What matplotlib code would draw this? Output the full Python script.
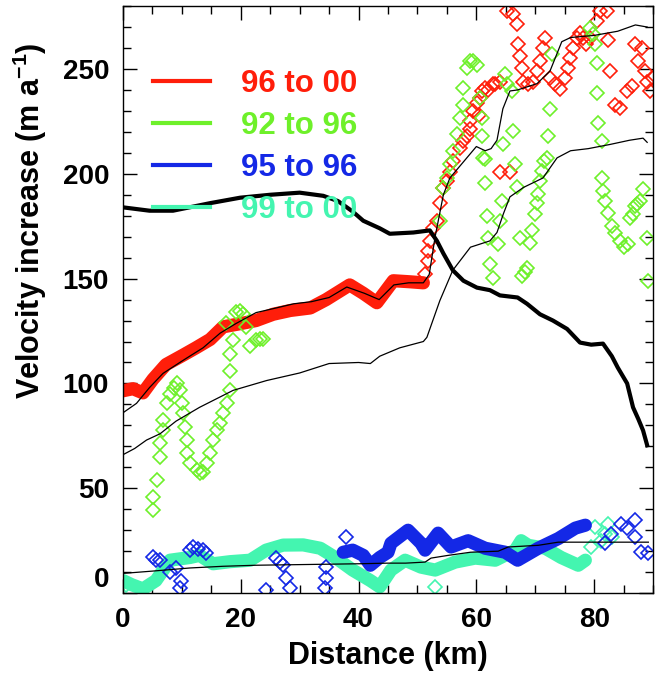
import matplotlib
matplotlib.use("Agg")
import matplotlib.pyplot as plt
from matplotlib.lines import Line2D

plt.rcParams['font.family'] = ['Liberation Sans', 'DejaVu Sans']
plt.rcParams['font.weight'] = 'bold'
plt.rcParams['mathtext.fontset'] = 'custom'
plt.rcParams['mathtext.rm'] = 'Liberation Sans:bold'
plt.rcParams['mathtext.bf'] = 'Liberation Sans:bold'

RED = '#ff1e0a'
GREEN = '#6ef02a'
BLUE = '#1428e6'
CYAN = '#44f5b0'

# thick black profile
prof_x = [0, 4.5, 8.5, 14.8, 19.9, 25, 30, 34, 36.5, 39, 40.8, 43.6, 45.3, 49.3, 52.1, 53.3,
          54.4, 56, 57.8, 60.1, 62.3, 64, 67, 68.6, 70.8, 73, 75.4, 77.6, 79.5, 81.5, 83, 84,
          85.6, 86.6, 87.5, 88.3, 89]
prof_y = [184, 182.4, 182.4, 186, 188.6, 190, 191, 189.5, 187, 182, 177.6, 174, 171.4, 172, 173,
          168, 162, 154, 149, 145.7, 144.5, 142, 141, 138, 133, 130, 126, 119.5, 118.5, 119, 113,
          107.6, 100, 88.6, 83, 77.6, 70.5]

# thin black lines
a_x = [0, 2.3, 4.5, 6.8, 10.2, 13.6, 16.5, 19.2, 22.6, 26, 29, 32, 35, 38, 41, 43.5, 46, 48.5,
       51, 52, 53, 54.4, 55.5, 57, 58.5, 60, 61.5, 62.5, 63.5, 64.5, 65.7, 67, 70.3, 72.5, 73.5,
       74.5, 76, 80, 84, 87, 89]
a_y = [86, 90.5, 98, 104.8, 111, 117, 124, 128.6, 133.8, 136, 138, 139, 141, 146, 143, 140, 147,
       148, 148, 152, 170, 190, 198, 203, 208, 213, 211, 212, 216, 231, 239.5, 240, 243, 249, 256,
       263, 265, 266, 268, 271, 270]
b_x = [0, 2, 4, 6.3, 9, 13, 18.7, 24.4, 30, 35, 40, 42, 43.6, 47, 51, 51.6, 53.8, 56, 59, 62.3,
       63.5, 64.6, 65.7, 68, 71.3, 73.7, 76, 79, 82.7, 86, 88.3, 89]
b_y = [66, 69, 73, 76, 82, 88.6, 96.7, 101.4, 105, 109.5, 110, 109.5, 113, 117, 120, 122, 139.5,
       154, 165, 168, 172, 181, 189, 193.5, 198, 207.6, 211, 212, 214, 216, 217, 215]
c_x = [0, 5, 11.4, 17, 22.6, 30, 35, 40, 45, 48, 51.3, 52.3, 55.2, 59, 63.7, 65.4, 70.5, 73.9,
       79, 84.6, 89.2]
c_y = [9.4, 10.5, 12, 12.8, 13.3, 13.6, 13.8, 14, 14.3, 14.3, 14.8, 16.7, 18, 19.5, 20, 22, 22.8,
       24.3, 24.3, 24.3, 24.3]

# 96 to 00
red_band_x = [0, 1.7, 3.4, 5.1, 7.3, 10.2, 12.4, 14.8, 17, 19.9, 22.6, 25.5, 28.4, 31.8, 34.5,
              36.5, 38.5, 40.8, 43.1, 45.9, 48.7, 51]
red_band_y = [96.5, 97.5, 95.5, 102, 109, 113.5, 117, 121, 127, 128.5, 130, 133, 134.8, 136, 140,
              143.5, 147, 143, 138.5, 149, 148.5, 148]
red_pts_x = [51.3, 51.8, 51.8, 52.1, 52.7, 53.3, 54.4, 55, 56, 57.2, 57.8, 59, 59, 59.4, 60.1, 61,
             61.5, 60.6, 62.8, 64, 65.2, 66.2, 66.9, 67.1, 67.4, 67.8, 67.9, 68.8, 69.6, 70.3,
             70.8, 71.3, 71.7, 72.5, 73.4, 74.2, 75.1, 75.6, 75.9, 76.4, 77.1, 78.1, 79.3, 80.5,
             81, 82.2, 82.4, 82.7, 83.6, 84.4, 85.6, 86.4, 87, 88.2, 87.5, 88.7, 89, 89.5, 90,
             64, 65.7, 77.6, 78.6, 53.8, 55.5, 58.4, 60.5, 62, 63.2]
red_pts_y = [152, 158.6, 163, 168, 174, 177.6, 193, 196.7, 206, 212.4, 215.7, 221.4, 225, 230,
             233.8, 239.5, 241, 236, 242.8, 244, 277.6, 276, 271.4, 262, 256, 250.5, 244, 242.8,
             244, 249, 253.8, 260, 264.8, 245.7, 242.8, 240.5, 245.7, 250.5, 255, 260, 264.8,
             264.8, 264.8, 273, 277.6, 277.6, 264, 249, 233, 231.4, 239.5, 242, 262, 260, 253.8,
             249, 244, 239.5, 245.7, 201, 201, 267, 262, 186, 201, 218, 228, 240, 243]

# 92 to 96
green_pts_x = [5.1, 5.1, 5.8, 6.3, 6.3, 6.8, 6.8, 7.5, 8, 8.6, 9.2, 9.7, 10, 10.2, 10.5, 10.9,
               10.9, 11.4, 12.6, 13.1, 13.6, 14.3, 14.8, 15.3, 16, 16.5, 17, 17.7, 18.2, 18.2,
               18.2, 18.7, 17.5, 19.2, 19.8, 20.4, 20.9, 21.6, 22.6, 23.2, 23.8,
               53.8, 54.4, 55, 55.5, 56, 56.7, 57.2, 57.8, 57.8, 58.4, 59, 59.5, 60.1, 60.6, 61,
               61, 61.1, 61.5, 61.8, 61.5, 62, 62.3, 62.8, 63.7, 64, 64.4, 64.6, 64.9, 65.2, 66,
               66.2, 66.6, 66.9, 67.4, 67.8, 68.2, 68.6, 69.1, 69.5, 70, 70.3, 70.5, 70.8, 71.2,
               71.4, 72, 72.2, 72.5, 72.9, 79.3, 79.8, 80.2, 80.5, 80.5, 80.7, 81.4, 81.4, 81.5,
               81.9, 82.4, 83, 83.6, 84.4, 85, 85.8, 86.1, 86.6, 87, 87.3, 87.8, 88.3, 89, 89.2]
green_pts_y = [39.5, 45.7, 53.8, 64.8, 71.4, 77.6, 82.4, 90.5, 95, 98, 100, 96.7, 90.5, 85.7, 79,
               72.9, 66.7, 62, 58.6, 57.5, 57.6, 62, 66.7, 72.9, 77.6, 81, 85.7, 90.5, 96.7, 106,
               114, 120.5, 128.6, 134, 134.5, 133, 126.7, 118, 120.5, 121, 121.4,
               177.6, 193, 198, 204.8, 211, 219, 226.7, 233, 241, 250.5, 253.8, 254, 252, 236,
               226.7, 218, 207.6, 195.7, 180, 207, 169.5, 157, 150.5, 166.7, 177.6, 187, 214,
               247.6, 242.8, 239.5, 220.5, 204.8, 193.5, 169.5, 151.4, 153, 155, 167, 173, 181,
               186, 190.5, 196.7, 201.4, 206, 207.6, 218, 231, 257, 269.5, 266.7, 262, 253, 238.6,
               224, 215.7, 198, 192, 187, 181.4, 175, 172, 168, 165, 166.7, 179, 181, 184.8,
               185.7, 187, 192.9, 169.5, 149]

# 95 to 96
blue_band_x = [37.4, 39, 40.8, 42, 43.6, 45, 45.5, 48.4, 50.6, 51.3, 53.5, 55.7, 58.6, 61.5,
               64.9, 67, 70.5, 73.9, 76.8, 78.5]
blue_band_y = [19.5, 20.5, 18, 13.3, 17, 19.5, 23.8, 30, 23.8, 20.5, 28.6, 22, 25, 21.4, 19.5,
               15.7, 21.4, 26, 31, 32.4]
blue_pts_x = [5.1, 5.6, 6.3, 8, 9, 9.9, 9.7, 11.4, 11.9, 12.8, 13.6, 14.1, 24.3, 26, 26.6, 27.2,
              27.7, 28.4, 34.5, 34.5, 34.3, 37.9, 81.9, 82.8, 84.6, 85.6, 87, 87, 88, 89.2]
blue_pts_y = [17, 16, 15.7, 10, 12, 6, 2.4, 20.5, 22, 21, 20.5, 19, 1.4, 16.7, 15, 13.3, 7, 2.4,
              12.4, 7, 2.4, 26.7, 23.8, 28, 33, 31, 34.8, 26.7, 19.5, 19]

# 99 to 00
cyan_band_x = [0, 1.5, 3.4, 5.6, 8, 11.4, 13, 15.3, 18.2, 21.6, 24.3, 27.2, 30.6, 33.5, 36.2, 39,
               42, 43.6, 45.5, 47.9, 50.6, 53, 56.4, 59.8, 63.2, 66.6, 67.6, 68.8, 71.7, 74.4,
               77.3, 78.5]
cyan_band_y = [6, 4, 2, 6, 15.7, 17, 18, 14, 15, 15.7, 20.5, 22.9, 23, 21.4, 16.7, 11, 6, 3, 11,
               15.7, 12.4, 11, 14.8, 16.7, 15.7, 20.5, 25, 22.8, 21.4, 17, 13.3, 15.7]
cyan_pts_x = [0.5, 53, 79.5, 80.2, 81.2, 81.8, 82.4, 83]
cyan_pts_y = [4, 3, 22, 31.4, 25, 28, 33, 27]

fig = plt.figure(figsize=(6.61, 6.74), dpi=100)
ax = fig.add_axes([0.186, 0.120, 0.802, 0.871])

mk = dict(marker='D', linestyle='none', markersize=7.5, markerfacecolor='none', markeredgewidth=1.2)
band = dict(linewidth=9.5, solid_capstyle='round', solid_joinstyle='round')

ax.plot(cyan_band_x, cyan_band_y, color=CYAN, **band)
ax.plot(cyan_pts_x, cyan_pts_y, color=CYAN, **mk)
ax.plot(blue_band_x, blue_band_y, color=BLUE, **band)
ax.plot(blue_pts_x, blue_pts_y, color=BLUE, **mk)
ax.plot(red_band_x, red_band_y, color=RED, **band)
ax.plot(red_pts_x, red_pts_y, color=RED, **mk)
ax.plot(green_pts_x, green_pts_y, color=GREEN, **mk)

ax.plot(a_x, a_y, color='black', linewidth=0.9)
ax.plot(b_x, b_y, color='black', linewidth=0.9)
ax.plot(c_x, c_y, color='black', linewidth=0.9)
ax.plot(prof_x, prof_y, color='black', linewidth=3)

ax.set_xlim(0, 90)
ax.set_ylim(0, 280)
ax.set_xticks([0, 20, 40, 60, 80])
ax.set_yticks([0, 50, 100, 150, 200, 250])
ax.set_xticks(range(0, 91, 5), minor=True)
ax.set_yticks(range(0, 281, 10), minor=True)
ax.tick_params(which='both', direction='in', top=True, right=True, width=1, labelsize=20)
ax.tick_params(which='major', length=10, pad=10)
ax.tick_params(which='minor', length=6)
for s in ax.spines.values():
    s.set_linewidth(1)
# the zero label sits just above the bottom edge
ax.get_yticklabels()[0].set_verticalalignment('bottom')

ax.set_xlabel('Distance (km)', fontsize=22, fontweight='bold', labelpad=6)
ax.set_ylabel(r'Velocity increase (m a$^{-1}$)', fontsize=22, fontweight='bold')
ax.yaxis.set_label_coords(-0.14, 0.635)

labels = ['96 to 00', '92 to 96', '95 to 96', '99 to 00']
colors = [RED, GREEN, BLUE, CYAN]
handles = [Line2D([], [], color=c, linewidth=3) for c in colors]
leg = ax.legend(handles, labels, loc='upper left', bbox_to_anchor=(0.056, 0.893), frameon=False,
                fontsize=22.5, handlelength=1.85, handletextpad=0.97, labelspacing=0.38,
                borderpad=0, borderaxespad=0, labelcolor=colors)
leg.set_zorder(10)

fig.savefig('out.png', dpi=100)
